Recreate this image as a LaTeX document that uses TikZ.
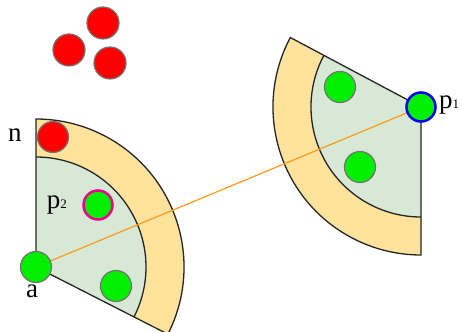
\documentclass[tikz,border=0pt]{standalone}
\usepackage{fontspec}
\setmainfont{Liberation Serif}
\definecolor{bandcol}{HTML}{FFE29C}
\definecolor{innercol}{HTML}{D7E8D4}
\definecolor{ballgreen}{HTML}{00EE00}
\definecolor{linecol}{HTML}{FF9A1A}
\begin{document}
\begin{tikzpicture}[x=1pt,y=1pt,
  band/.style={fill=bandcol},
  innerfill/.style={fill=innercol},
  edge/.style={draw=black!85,line width=1.3pt},
  ball/.style={circle,inner sep=0pt,minimum size=31pt,draw=black!55,line width=1.2pt},
  gball/.style={ball,fill=ballgreen},
  rball/.style={ball,fill=red},
  lbl/.style={font=\fontsize{27}{27}\selectfont,inner sep=0pt}
]
\useasboundingbox (0,0) rectangle (461,332);
\clip (0,0) rectangle (461,332);
\coordinate (cl) at (36,65);
\coordinate (cr) at (421,225);
% left sector
\fill[band] (cl) -- ++(-27:148) arc(-27:90:148) -- cycle;
\fill[innerfill] (cl) -- ++(-27:110) arc(-27:90:110) -- cycle;
\draw[edge] (cl) -- ++(-27:148) arc(-27:90:148) -- cycle;
\draw[edge] ([shift={(-27:110)}]cl) arc(-27:90:110);
% right sector
\fill[band] (cr) -- ++(152:148) arc(152:270:148) -- cycle;
\fill[innerfill] (cr) -- ++(152:110) arc(152:270:110) -- cycle;
\draw[edge] (cr) -- ++(152:148) arc(152:270:148) -- cycle;
\draw[edge] ([shift={(152:110)}]cr) arc(152:270:110);
% line
\draw[linecol,line width=1.2pt] (cl) -- (cr);
% balls
\node[gball] (a) at (cl) {};
\node[rball] (n) at (53,195) {};
\node[gball,draw=magenta,line width=2.5pt,minimum size=29pt] (p2) at (98,127) {};
\node[gball] (g1) at (116,46) {};
\node[gball] (g2) at (340,245) {};
\node[gball] (g3) at (360,165) {};
\node[gball,draw=blue,line width=2.5pt,minimum size=29pt] (p1) at (cr) {};
\node[rball,minimum size=32pt] (r1) at (103,309) {};
\node[rball,minimum size=32pt] (r2) at (69,282) {};
\node[rball,minimum size=32pt] (r3) at (110,269) {};
% labels
\node[lbl] (ln) at (15,197) {n};
\node[lbl,anchor=east] (lp2) at (67,127) {p\fontsize{13}{13}\selectfont 2};
\node[lbl] (la) at (32,41) {a};
\node[lbl,anchor=west] (lp1) at (439,227) {p\fontsize{13}{13}\selectfont 1};
\end{tikzpicture}
\end{document}
